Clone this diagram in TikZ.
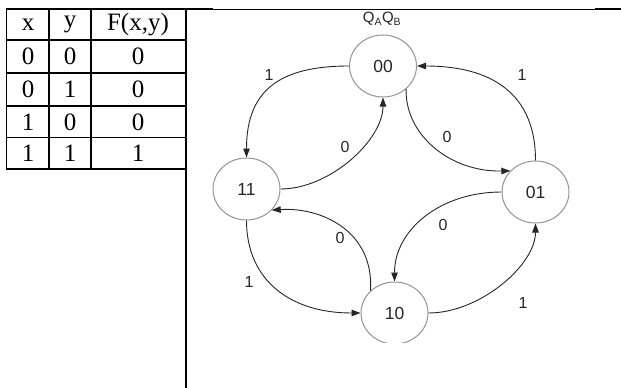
\documentclass[tikz,border=0pt]{standalone}
\usepackage{fontspec}
\setmainfont{Liberation Serif}
\newfontfamily\arialf{Liberation Sans}
\usetikzlibrary{arrows.meta,shapes.geometric}
\begin{document}
\begin{tikzpicture}[x=1pt,y=-1pt,
  state/.style={ellipse,draw=black!42,line width=1pt,minimum width=67pt,minimum height=62pt,inner sep=0pt,font=\arialf\fontsize{17.5}{17.5}\selectfont,text=black!85},
  trans/.style={draw=black!85,line width=0.9pt,-{Triangle[length=9pt,width=6.5pt]}},
  lab/.style={font=\arialf\fontsize{16}{16}\selectfont,text=black!85,inner sep=0pt},
  tabline/.style={line width=1.7pt},
  cell/.style={font=\fontsize{25}{25}\selectfont,inner sep=0pt}
]
\useasboundingbox (0,0) rectangle (621,388);
% table grid
\draw[tabline] (6,9) -- (213,9);
\draw[tabline] (595,9) -- (621,9);
\draw[line width=0.6pt] (213,9) -- (595,9);
\draw[tabline] (186,9) -- (186,388);
\foreach \yy in {40,73,106,137.5,169} \draw[tabline] (6,\yy) -- (186,\yy);
\foreach \xx in {6.5,49,91} \draw[tabline] (\xx,9) -- (\xx,169);
% table text
\node[cell] (h1) at (28,24.5) {x};
\node[cell] (h2) at (70,24.5) {y};
\node[cell] (h3) at (138,24.5) {F(x,y)};
\node[cell] (a1) at (28,56.5) {0};
\node[cell] (a2) at (70,56.5) {0};
\node[cell] (a3) at (138,56.5) {0};
\node[cell] (b1) at (28,89.5) {0};
\node[cell] (b2) at (70,89.5) {1};
\node[cell] (b3) at (138,89.5) {0};
\node[cell] (c1) at (28,122) {1};
\node[cell] (c2) at (70,122) {0};
\node[cell] (c3) at (138,122) {0};
\node[cell] (d1) at (28,153.5) {1};
\node[cell] (d2) at (70,153.5) {1};
\node[cell] (d3) at (138,153.5) {1};
% state diagram
\begin{scope}
\clip (190,10) rectangle (621,342);
\node[font=\arialf\fontsize{15}{15}\selectfont,text=black!85,inner sep=0pt] (qq) at (382,19) {Q\textsubscript{A}Q\textsubscript{B}};
\node[state] (n00) at (383,66) {00};
\node[state] (n11) at (246.5,189) {11};
\node[state] (n01) at (535.5,192) {01};
\node[state] (n10) at (394.5,313) {10};
\draw[trans] (n00.west) .. controls (280,66) and (246.5,90) .. (n11.north);
\draw[trans] (n11.east) .. controls (330,189) and (383,140) .. (n00.south);
\draw[trans] (n00.-45) .. controls (405,135) and (450,172) .. (n01.140);
\draw[trans] (n01.north) .. controls (535.5,85) and (480,66) .. (n00.east);
\draw[trans] (n01.west) .. controls (440,192) and (394.5,230) .. (n10.north);
\draw[trans] (n10.137) .. controls (374,230) and (320,207) .. (n11.-40);
\draw[trans] (n11.south) .. controls (246.5,280) and (290,313) .. (n10.west);
\draw[trans] (n10.east) .. controls (480,313) and (535.5,265) .. (n01.south);
\node[lab] (l1) at (269,75) {1};
\node[lab] (l2) at (345,147) {0};
\node[lab] (l3) at (447,137) {0};
\node[lab] (l4) at (522,75) {1};
\node[lab] (l5) at (443,225) {0};
\node[lab] (l6) at (340,238) {0};
\node[lab] (l7) at (249,282) {1};
\node[lab] (l8) at (523,303) {1};
\end{scope}
\end{tikzpicture}
\end{document}
